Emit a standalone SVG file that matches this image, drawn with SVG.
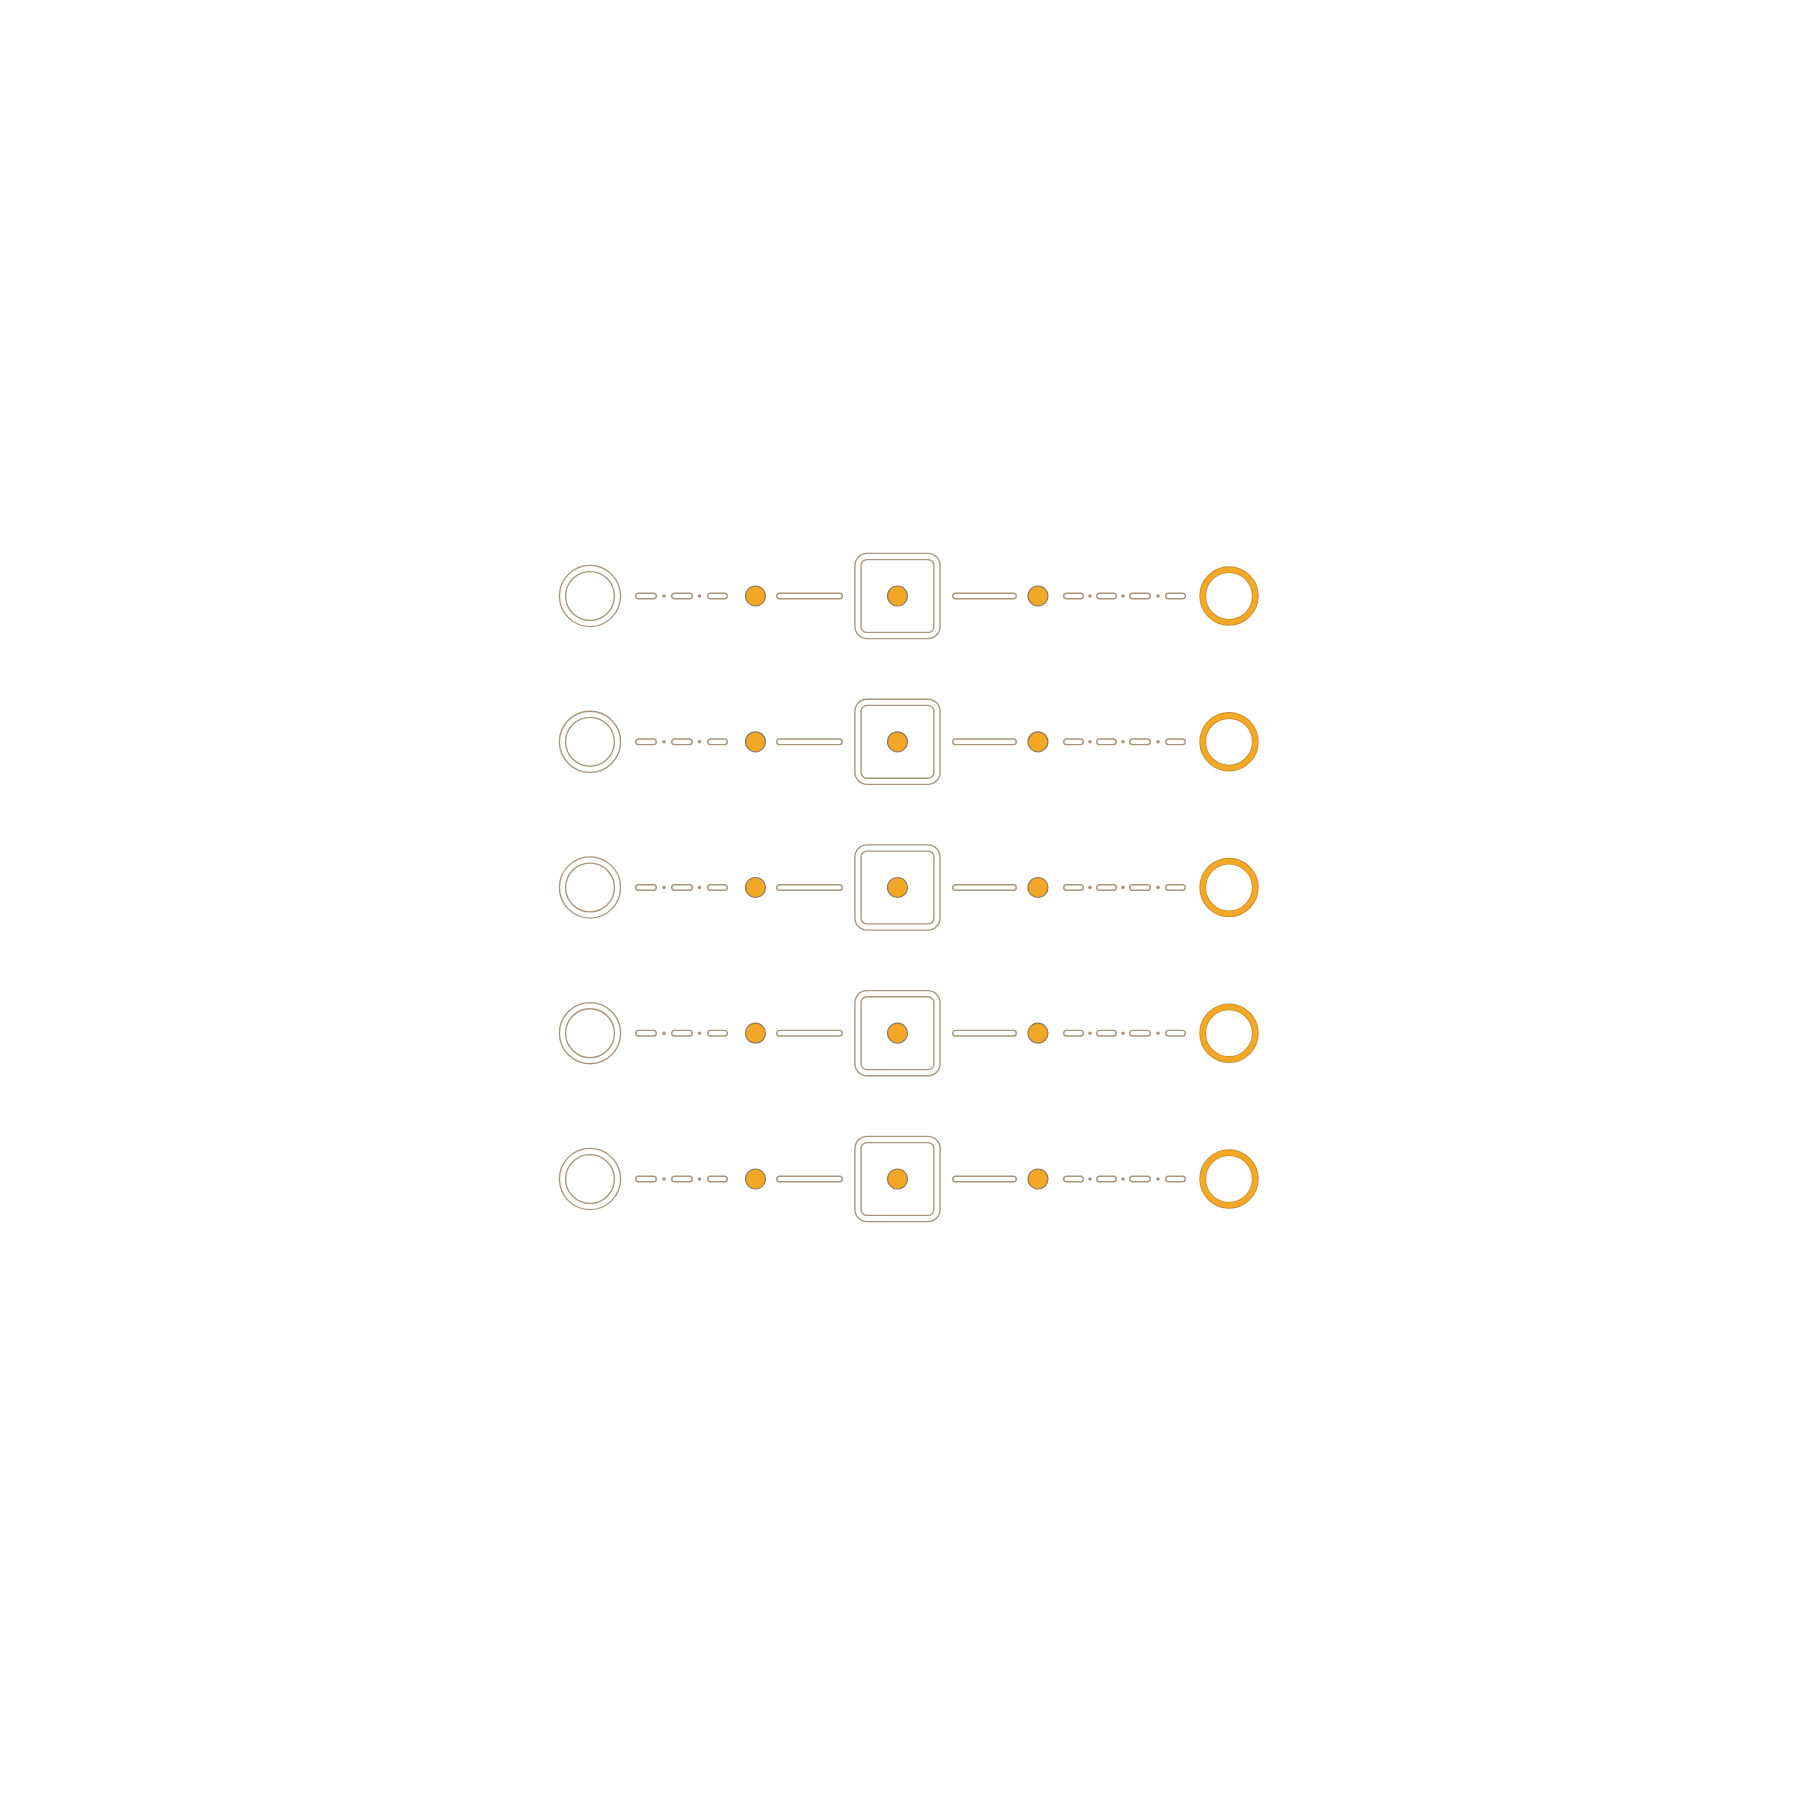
<svg xmlns="http://www.w3.org/2000/svg" xmlns:xlink="http://www.w3.org/1999/xlink" width="1800" height="1800" viewBox="0 0 1800 1800">
<style>
.bo{fill:none;stroke:#a8957e;stroke-width:7.5}
.wi{fill:none;stroke:#ffffff;stroke-width:4.8}
.oo{fill:none;stroke:#c8902e;stroke-width:6.8}
.oi{fill:none;stroke:#f3a925;stroke-width:5}
.dot{fill:#f2a826;stroke:#8f7a5c;stroke-width:1.2}
.pb{stroke:#a8957e;stroke-width:7;stroke-linecap:round;fill:none}
.pw{stroke:#ffffff;stroke-width:4.2;stroke-linecap:round;fill:none}
.sd{fill:#a8957e}
</style>
<defs>
<g id="ringL"><circle r="27.5" class="bo"/><circle r="27.5" class="wi"/></g>
<g id="ringR"><circle r="26.3" class="oo"/><circle r="26.3" class="oi"/></g>
<g id="box"><rect x="-39.5" y="-39.5" width="79" height="79" rx="9" class="bo"/><rect x="-39.5" y="-39.5" width="79" height="79" rx="9" class="wi"/><circle r="10" class="dot"/></g>
<g id="pt"><circle r="10" class="dot"/></g>
<path id="pillsL" d="M638.5 0H653.5M674.5 0H689.5M710.5 0H724.5M779.5 0H839.5M955.5 0H1013.5M1066.5 0H1080.5M1099.5 0H1113.5M1132.5 0H1147.5M1168.5 0H1182.5"/>
<g id="conn">
<use xlink:href="#pillsL" class="pb"/>
<use xlink:href="#pillsL" class="pw"/>
<circle cx="664" cy="0" r="1.8" class="sd"/><circle cx="699.5" cy="0" r="1.8" class="sd"/>
<circle cx="1090" cy="0" r="1.8" class="sd"/><circle cx="1123" cy="0" r="1.8" class="sd"/><circle cx="1158" cy="0" r="1.8" class="sd"/>
</g>
</defs>
<rect width="1800" height="1800" fill="#ffffff"/>
<g id="connectors">
<use xlink:href="#conn" y="596"/>
<use xlink:href="#conn" y="741.8"/>
<use xlink:href="#conn" y="887.5"/>
<use xlink:href="#conn" y="1033.2"/>
<use xlink:href="#conn" y="1179"/>
</g>
<g id="row1">
<g id="r1-start"><use xlink:href="#ringL" x="590" y="596"/></g>
<g id="r1-p1"><use xlink:href="#pt" x="755.5" y="596"/></g>
<g id="r1-box"><use xlink:href="#box" x="897.5" y="596"/></g>
<g id="r1-p2"><use xlink:href="#pt" x="1038" y="596"/></g>
<g id="r1-end"><use xlink:href="#ringR" x="1229" y="596"/></g>
</g>
<g id="row2">
<g id="r2-start"><use xlink:href="#ringL" x="590" y="741.8"/></g>
<g id="r2-p1"><use xlink:href="#pt" x="755.5" y="741.8"/></g>
<g id="r2-box"><use xlink:href="#box" x="897.5" y="741.8"/></g>
<g id="r2-p2"><use xlink:href="#pt" x="1038" y="741.8"/></g>
<g id="r2-end"><use xlink:href="#ringR" x="1229" y="741.8"/></g>
</g>
<g id="row3">
<g id="r3-start"><use xlink:href="#ringL" x="590" y="887.5"/></g>
<g id="r3-p1"><use xlink:href="#pt" x="755.5" y="887.5"/></g>
<g id="r3-box"><use xlink:href="#box" x="897.5" y="887.5"/></g>
<g id="r3-p2"><use xlink:href="#pt" x="1038" y="887.5"/></g>
<g id="r3-end"><use xlink:href="#ringR" x="1229" y="887.5"/></g>
</g>
<g id="row4">
<g id="r4-start"><use xlink:href="#ringL" x="590" y="1033.2"/></g>
<g id="r4-p1"><use xlink:href="#pt" x="755.5" y="1033.2"/></g>
<g id="r4-box"><use xlink:href="#box" x="897.5" y="1033.2"/></g>
<g id="r4-p2"><use xlink:href="#pt" x="1038" y="1033.2"/></g>
<g id="r4-end"><use xlink:href="#ringR" x="1229" y="1033.2"/></g>
</g>
<g id="row5">
<g id="r5-start"><use xlink:href="#ringL" x="590" y="1179"/></g>
<g id="r5-p1"><use xlink:href="#pt" x="755.5" y="1179"/></g>
<g id="r5-box"><use xlink:href="#box" x="897.5" y="1179"/></g>
<g id="r5-p2"><use xlink:href="#pt" x="1038" y="1179"/></g>
<g id="r5-end"><use xlink:href="#ringR" x="1229" y="1179"/></g>
</g>
</svg>
